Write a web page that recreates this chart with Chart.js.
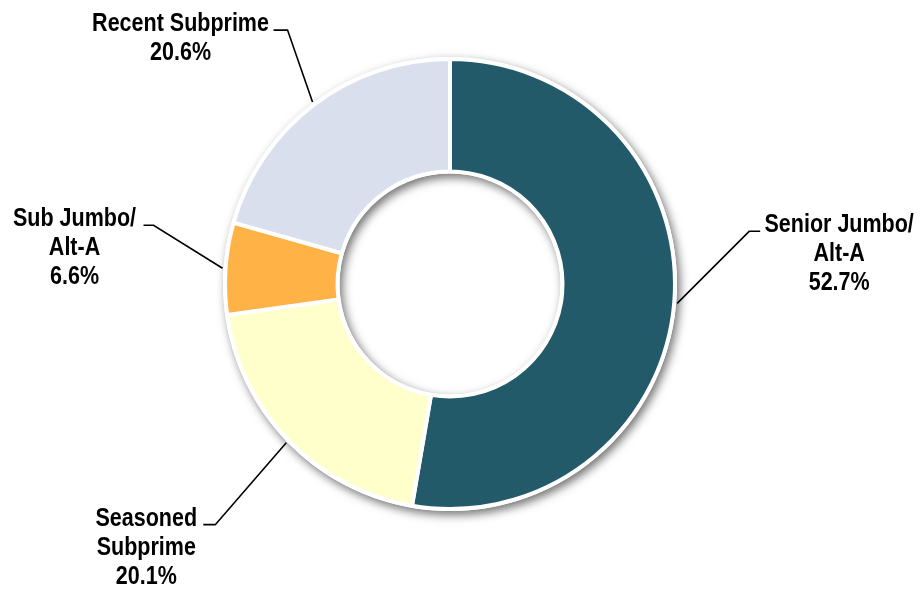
<!DOCTYPE html>
<html>
<head>
<meta charset="utf-8">
<script src="https://cdn.jsdelivr.net/npm/chart.js@4.4.1/dist/chart.umd.min.js"></script>
<style>
  html, body { margin: 0; padding: 0; background: #fff; }
  #wrap { width: 924px; height: 592px; }
</style>
</head>
<body>
<div id="wrap"><canvas id="mixChart" width="924" height="592"></canvas></div>
<script>
const categories = [['Senior Jumbo/', 'Alt-A'], ['Seasoned', 'Subprime'], ['Sub Jumbo/', 'Alt-A'], ['Recent Subprime']];
const shares = [52.7, 20.1, 6.6, 20.6];
const sliceColors = ['#235A69', '#FFFFCC', '#FFB347', '#D9DFEC'];

// label layout: elbow offset from the slice edge, short tick, text centre
const labelLayout = [
  { elbow: [72, -72], tick: 11, textDx: 79 },
  { elbow: [-71, 82], tick: -12, textDx: -57 },
  { elbow: [-69, -43], tick: -10, textDx: -69 },
  { elbow: [-25, -72], tick: -14, textDx: -93 }
];

// no narrow font installed, so squeeze a bold sans horizontally
const LABEL_FONT = 'bold 25px "Liberation Sans", Arial, sans-serif';
const SQUEEZE = 0.86;
const LINE_H = 29;

// white ring underneath the slices, with a soft drop shadow
const ringShadow = {
  id: 'ringShadow',
  beforeDatasetsDraw(chart) {
    const arcs = chart.getDatasetMeta(0).data;
    if (!arcs.length) return;
    const a = arcs[0];
    const ctx = chart.ctx;
    const outer = a.outerRadius + 2;
    const inner = Math.max(a.innerRadius - 2, 0);
    ctx.save();
    ctx.beginPath();
    ctx.arc(a.x, a.y, outer, 0, Math.PI * 2);
    ctx.arc(a.x, a.y, inner, 0, Math.PI * 2, true);
    ctx.closePath();
    ctx.shadowColor = 'rgba(0,0,0,0.55)';
    ctx.shadowBlur = 10;
    ctx.shadowOffsetX = 3;
    ctx.shadowOffsetY = 4;
    ctx.fillStyle = '#ffffff';
    ctx.fill();
    ctx.restore();
  }
};

const sliceLabels = {
  id: 'sliceLabels',
  afterDatasetsDraw(chart) {
    const ctx = chart.ctx;
    const arcs = chart.getDatasetMeta(0).data;
    ctx.save();
    ctx.strokeStyle = '#000';
    ctx.lineWidth = 1.6;
    arcs.forEach((arc, i) => {
      const mid = (arc.startAngle + arc.endAngle) / 2;
      const r = arc.outerRadius + 3;
      const ax = arc.x + Math.cos(mid) * r;
      const ay = arc.y + Math.sin(mid) * r;
      const lay = labelLayout[i];
      const ex = ax + lay.elbow[0];
      const ey = ay + lay.elbow[1];
      const tx = ex + lay.tick;
      ctx.beginPath();
      ctx.moveTo(ax, ay);
      ctx.lineTo(ex, ey);
      ctx.lineTo(tx, ey);
      ctx.stroke();

      const lines = categories[i].concat([shares[i].toFixed(1) + '%']);
      const cx = tx + lay.textDx;
      ctx.save();
      ctx.translate(cx, ey + 1);
      ctx.scale(SQUEEZE, 1);
      ctx.font = LABEL_FONT;
      ctx.fillStyle = '#000';
      ctx.textAlign = 'center';
      ctx.textBaseline = 'alphabetic';
      lines.forEach((t, k) => ctx.fillText(t, 0, k * LINE_H));
      ctx.restore();
    });
    ctx.restore();
  }
};

new Chart(document.getElementById('mixChart'), {
  type: 'doughnut',
  data: {
    labels: categories.map(c => c.join(' ')),
    datasets: [{
      data: shares,
      backgroundColor: sliceColors,
      borderColor: '#ffffff',
      borderWidth: 4,
      hoverOffset: 0
    }]
  },
  options: {
    responsive: false,
    animation: false,
    cutout: '50%',
    layout: { padding: { top: 57, bottom: 81, left: 0, right: 24 } },
    events: [],
    plugins: {
      legend: { display: false },
      tooltip: { enabled: false }
    }
  },
  plugins: [ringShadow, sliceLabels]
});
</script>
</body>
</html>
